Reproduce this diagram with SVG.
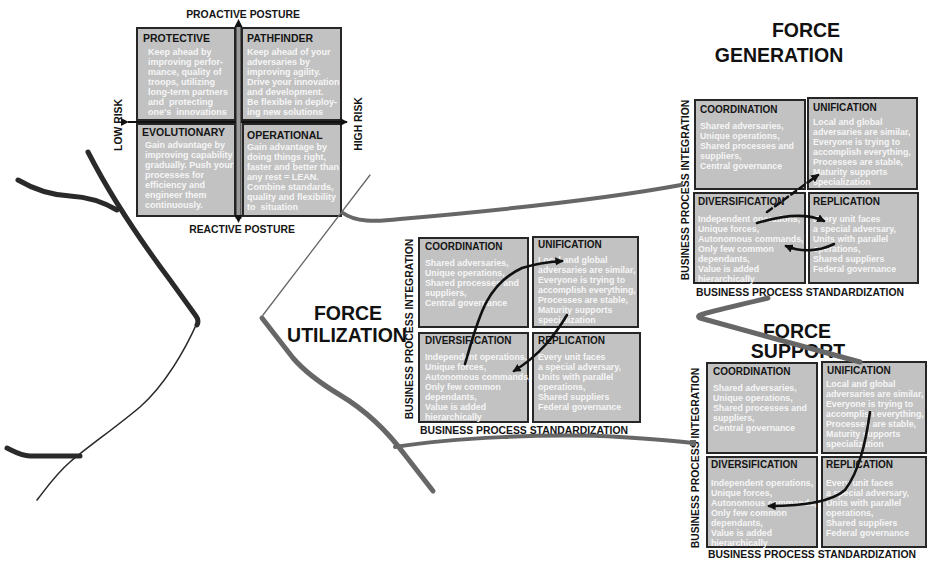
<svg xmlns="http://www.w3.org/2000/svg" width="928" height="561" viewBox="0 0 928 561">
  <defs>
    <style>
      text { font-family: "Liberation Sans", Arial, sans-serif; font-weight: bold; }
      .box { fill: #c2c2c2; stroke: #262626; stroke-width: 2; }
      .ttl { font-size: 10px; fill: #151515; }
      .qttl { font-size: 10.5px; fill: #151515; }
      .body { font-size: 8.8px; fill: #f6f6f6; }
      .qbody { font-size: 9px; fill: #f6f6f6; }
      .axis { font-size: 10.4px; fill: #151515; }
      .big { font-size: 19.5px; fill: #111; text-anchor: middle; }
      .mid { text-anchor: middle; }
      .grey { fill: none; stroke: #676767; stroke-linecap: round; stroke-linejoin: round; }
      .ink { fill: none; stroke: #2a2a2a; stroke-linecap: round; stroke-linejoin: round; }
      .flow { fill: none; stroke: #111; stroke-width: 2.6; stroke-linecap: round; }
    </style>
    <marker id="tip" viewBox="0 0 10 10" refX="8" refY="5" markerWidth="3.2" markerHeight="3.2" orient="auto" markerUnits="strokeWidth">
      <path d="M0,0 L10,5 L0,10 z" fill="#111"/>
    </marker>
    <marker id="axtip" viewBox="0 0 10 10" refX="9" refY="5" markerWidth="4" markerHeight="4" orient="auto" markerUnits="strokeWidth">
      <path d="M0,0 L10,5 L0,10 z" fill="#111"/>
    </marker>
  </defs>

  <!-- posture quadrant -->
  <text class="axis mid" x="243" y="18" font-size="10.6">PROACTIVE POSTURE</text>
  <text class="axis mid" x="242" y="233" font-size="10.6">REACTIVE POSTURE</text>
  <text class="axis mid" transform="translate(122,125) rotate(-90)">LOW RISK</text>
  <text class="axis mid" transform="translate(362,124) rotate(-90)">HIGH RISK</text>

  <g id="protective">
    <rect class="box" x="137" y="28" width="98" height="92"/>
    <text class="qttl" x="143" y="42">PROTECTIVE</text>
    <text class="qbody" x="148" y="55">Keep ahead by<tspan x="148" dy="10">improving perfor-</tspan><tspan x="148" dy="10">mance, quality of</tspan><tspan x="148" dy="10">troops, utilizing</tspan><tspan x="148" dy="10">long-term partners</tspan><tspan x="148" dy="10" xml:space="preserve">and  protecting</tspan><tspan x="148" dy="10" xml:space="preserve">one's  innovations</tspan></text>
  </g>
  <g id="pathfinder">
    <rect class="box" x="242" y="28" width="99" height="92"/>
    <text class="qttl" x="247" y="42">PATHFINDER</text>
    <text class="qbody" x="247" y="55">Keep ahead of your<tspan x="247" dy="10">adversaries by</tspan><tspan x="247" dy="10">improving agility.</tspan><tspan x="247" dy="10">Drive your innovation</tspan><tspan x="247" dy="10">and development.</tspan><tspan x="247" dy="10">Be flexible in deploy-</tspan><tspan x="247" dy="10">ing new solutions</tspan></text>
  </g>
  <g id="evolutionary">
    <rect class="box" x="137" y="124" width="98" height="92"/>
    <text class="qttl" x="142" y="136">EVOLUTIONARY</text>
    <text class="qbody" x="145" y="148">Gain advantage by<tspan x="145" dy="10">improving capability</tspan><tspan x="145" dy="10">gradually. Push your</tspan><tspan x="145" dy="10">processes for</tspan><tspan x="145" dy="10">efficiency and</tspan><tspan x="145" dy="10">engineer them</tspan><tspan x="145" dy="10">continuously.</tspan></text>
  </g>
  <g id="operational">
    <rect class="box" x="243" y="124" width="98" height="92"/>
    <text class="qttl" x="247" y="139">OPERATIONAL</text>
    <text class="qbody" x="247" y="150">Gain advantage by<tspan x="247" dy="10">doing things right,</tspan><tspan x="247" dy="10">faster and better than</tspan><tspan x="247" dy="10">any rest = LEAN.</tspan><tspan x="247" dy="10">Combine standards,</tspan><tspan x="247" dy="10">quality and flexibility</tspan><tspan x="247" dy="10" xml:space="preserve">to  situation</tspan></text>
  </g>

  <!-- force generation -->
  <text class="big" x="806" y="37">FORCE</text>
  <text class="big" x="779" y="62">GENERATION</text>
  <text class="axis mid" transform="translate(689,190) rotate(-90)">BUSINESS PROCESS INTEGRATION</text>
  <text class="axis mid" x="800" y="296">BUSINESS PROCESS STANDARDIZATION</text>
  <g id="fg-coordination">
    <rect class="box" x="695" y="100" width="110" height="89"/>
    <text class="ttl" x="700" y="113">COORDINATION</text>
    <text class="body" x="700" y="129">Shared adversaries,<tspan x="700" dy="10">Unique operations,</tspan><tspan x="700" dy="10">Shared processes and</tspan><tspan x="700" dy="10">suppliers,</tspan><tspan x="700" dy="10">Central governance</tspan></text>
  </g>
  <g id="fg-unification">
    <rect class="box" x="808" y="98" width="109" height="91"/>
    <text class="ttl" x="813" y="111">UNIFICATION</text>
    <text class="body" x="813" y="125">Local and global<tspan x="813" dy="10">adversaries are similar,</tspan><tspan x="813" dy="10">Everyone is trying to</tspan><tspan x="813" dy="10">accomplish everything,</tspan><tspan x="813" dy="10">Processes are stable,</tspan><tspan x="813" dy="10">Maturity supports</tspan><tspan x="813" dy="10">specialization</tspan></text>
  </g>
  <g id="fg-diversification">
    <rect class="box" x="694" y="193" width="111" height="90"/>
    <text class="ttl" x="698" y="205">DIVERSIFICATION</text>
    <text class="body" x="698" y="222">Independent operations,<tspan x="698" dy="10">Unique forces,</tspan><tspan x="698" dy="10">Autonomous commands,</tspan><tspan x="698" dy="10">Only few common</tspan><tspan x="698" dy="10">dependants,</tspan><tspan x="698" dy="10">Value is added</tspan><tspan x="698" dy="10">hierarchically</tspan></text>
  </g>
  <g id="fg-replication">
    <rect class="box" x="809" y="193" width="109" height="90"/>
    <text class="ttl" x="813" y="205">REPLICATION</text>
    <text class="body" x="813" y="222">Every unit faces<tspan x="813" dy="10">a special adversary,</tspan><tspan x="813" dy="10">Units with parallel</tspan><tspan x="813" dy="10">operations,</tspan><tspan x="813" dy="10">Shared suppliers</tspan><tspan x="813" dy="10">Federal governance</tspan></text>
  </g>

  <!-- force utilization -->
  <text class="big" x="348" y="320">FORCE</text>
  <text class="big" x="347" y="342">UTILIZATION</text>
  <text class="axis mid" transform="translate(413,329) rotate(-90)">BUSINESS PROCESS INTEGRATION</text>
  <text class="axis mid" x="524" y="434">BUSINESS PROCESS STANDARDIZATION</text>
  <g id="fu-coordination">
    <rect class="box" x="419" y="238" width="109" height="89"/>
    <text class="ttl" x="425" y="250">COORDINATION</text>
    <text class="body" x="425" y="266">Shared adversaries,<tspan x="425" dy="10">Unique operations,</tspan><tspan x="425" dy="10">Shared processes and</tspan><tspan x="425" dy="10">suppliers,</tspan><tspan x="425" dy="10">Central governance</tspan></text>
  </g>
  <g id="fu-unification">
    <rect class="box" x="533" y="237" width="105" height="90"/>
    <text class="ttl" x="538" y="248">UNIFICATION</text>
    <text class="body" x="538" y="263">Local and global<tspan x="538" dy="10">adversaries are similar,</tspan><tspan x="538" dy="10">Everyone is trying to</tspan><tspan x="538" dy="10">accomplish everything,</tspan><tspan x="538" dy="10">Processes are stable,</tspan><tspan x="538" dy="10">Maturity supports</tspan><tspan x="538" dy="10">specialization</tspan></text>
  </g>
  <g id="fu-diversification">
    <rect class="box" x="419" y="333" width="109" height="89"/>
    <text class="ttl" x="425" y="344">DIVERSIFICATION</text>
    <text class="body" x="425" y="360">Independent operations,<tspan x="425" dy="10">Unique forces,</tspan><tspan x="425" dy="10">Autonomous commands,</tspan><tspan x="425" dy="10">Only few common</tspan><tspan x="425" dy="10">dependants,</tspan><tspan x="425" dy="10">Value is added</tspan><tspan x="425" dy="10">hierarchically</tspan></text>
  </g>
  <g id="fu-replication">
    <rect class="box" x="533" y="333" width="107" height="89"/>
    <text class="ttl" x="538" y="344">REPLICATION</text>
    <text class="body" x="538" y="360">Every unit faces<tspan x="538" dy="10">a special adversary,</tspan><tspan x="538" dy="10">Units with parallel</tspan><tspan x="538" dy="10">operations,</tspan><tspan x="538" dy="10">Shared suppliers</tspan><tspan x="538" dy="10">Federal governance</tspan></text>
  </g>

  <!-- force support -->
  <text class="big" x="797" y="338">FORCE</text>
  <text class="big" x="798" y="358">SUPPORT</text>
  <text class="axis mid" transform="translate(699,458) rotate(-90)">BUSINESS PROCESS INTEGRATION</text>
  <text class="axis mid" x="812" y="558">BUSINESS PROCESS STANDARDIZATION</text>
  <g id="fs-coordination">
    <rect class="box" x="707" y="363" width="110" height="90"/>
    <text class="ttl" x="713" y="375">COORDINATION</text>
    <text class="body" x="713" y="391">Shared adversaries,<tspan x="713" dy="10">Unique operations,</tspan><tspan x="713" dy="10">Shared processes and</tspan><tspan x="713" dy="10">suppliers,</tspan><tspan x="713" dy="10">Central governance</tspan></text>
  </g>
  <g id="fs-unification">
    <rect class="box" x="822" y="362" width="104" height="91"/>
    <text class="ttl" x="827" y="374">UNIFICATION</text>
    <text class="body" x="826" y="387">Local and global<tspan x="826" dy="10">adversaries are similar,</tspan><tspan x="826" dy="10">Everyone is trying to</tspan><tspan x="826" dy="10">accomplish everything,</tspan><tspan x="826" dy="10">Processes are stable,</tspan><tspan x="826" dy="10">Maturity supports</tspan><tspan x="826" dy="10">specialization</tspan></text>
  </g>
  <g id="fs-diversification">
    <rect class="box" x="707" y="457" width="110" height="90"/>
    <text class="ttl" x="711" y="468">DIVERSIFICATION</text>
    <text class="body" x="711" y="486">Independent operations,<tspan x="711" dy="10">Unique forces,</tspan><tspan x="711" dy="10">Autonomous commands,</tspan><tspan x="711" dy="10">Only few common</tspan><tspan x="711" dy="10">dependants,</tspan><tspan x="711" dy="10">Value is added</tspan><tspan x="711" dy="10">hierarchically</tspan></text>
  </g>
  <g id="fs-replication">
    <rect class="box" x="822" y="457" width="104" height="90"/>
    <text class="ttl" x="826" y="468">REPLICATION</text>
    <text class="body" x="826" y="486">Every unit faces<tspan x="826" dy="10">a special adversary,</tspan><tspan x="826" dy="10">Units with parallel</tspan><tspan x="826" dy="10">operations,</tspan><tspan x="826" dy="10">Shared suppliers</tspan><tspan x="826" dy="10">Federal governance</tspan></text>
  </g>

  <!-- connectors: brush strokes, axes and flow arrows, drawn over the nodes -->
  <g id="connectors">
    <!-- left dark strokes -->
    <path class="ink" stroke-width="5" d="M88,152 C110,195 140,240 170,280 L196,316 C199,320 198,323 197,325"/>
    <path class="ink" stroke-width="5" d="M18,180 C35,190 50,195 70,196 C90,197 105,203 117,210"/>
    <path class="ink" stroke-width="1.6" d="M197,323 C185,350 165,385 140,407 C115,428 90,445 70,462 C55,475 45,490 37,500"/>
    <path class="ink" stroke-width="5" d="M7,448 C15,452 22,456 30,456 L80,456"/>
    <!-- grey strokes -->
    <path class="grey" stroke-width="1.3" d="M370,175 L263,315"/>
    <path class="grey" stroke-width="5" d="M262,318 L293,358 C305,372 320,383 340,395 C365,410 385,428 405,455 L433,491"/>
    <path class="grey" stroke-width="4" d="M343,213 C355,222 375,222 400,219 C480,212 600,200 681,185"/>
    <path class="grey" stroke-width="4" d="M395,447 C450,438 550,433 620,437 C650,439 675,441 693,443"/>
    <rect x="690" y="440" width="6" height="6" fill="#676767"/>
    <path class="grey" stroke-width="5" d="M768,298 C740,305 715,310 700,315 C698,316 698,317 700,318 L860,362"/>

    <!-- quadrant axes -->
    <line x1="128" y1="122" x2="347" y2="122" stroke="#111" stroke-width="2" marker-start="url(#axtip)" marker-end="url(#axtip)"/>
    <rect x="236" y="26" width="5" height="192" fill="#9a9a9a" stroke="#222" stroke-width="1"/>
    <path d="M238.5,19 L242.5,27 L234.5,27 z" fill="#111"/>
    <path d="M238.5,223 L242.5,215 L234.5,215 z" fill="#111"/>

    <!-- arrows in force generation grid -->
    <path class="flow" stroke-dasharray="6 4" d="M767,212 L818,175" marker-end="url(#tip)"/>
    <path class="flow" d="M757,223 C780,216 805,212 824,221" marker-end="url(#tip)"/>
    <path class="flow" d="M834,244 C818,252 800,252 786,246" marker-end="url(#tip)"/>
    <!-- arrows in force utilization grid -->
    <path class="flow" d="M465,364 C478,320 485,285 522,268 C535,264 548,262 562,261" marker-end="url(#tip)"/>
    <path class="flow" d="M567,315 C555,335 540,355 514,371" marker-end="url(#tip)"/>
    <!-- arrow in force support grid -->
    <path class="flow" d="M870,412 C866,440 860,470 845,490 C830,503 800,506 769,506" marker-end="url(#tip)"/>
  </g>
</svg>
